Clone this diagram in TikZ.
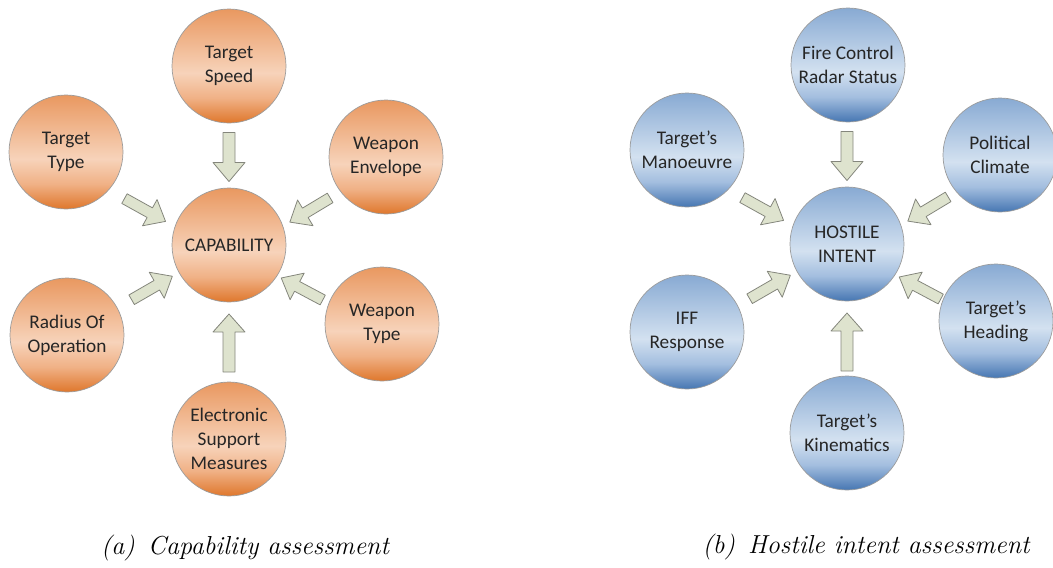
\documentclass[tikz,border=0pt]{standalone}
\usepackage{fontspec}
\newfontfamily\carlito{Carlito}
\usetikzlibrary{calc}

% ball colours
\definecolor{otop}{HTML}{E99860}
\definecolor{olight}{HTML}{F7D3BA}
\definecolor{omid}{HTML}{F0B186}
\definecolor{obot}{HTML}{DF772C}
\definecolor{btop}{HTML}{88AAD3}
\definecolor{blight}{HTML}{D3E1F0}
\definecolor{bmid}{HTML}{A3BEDF}
\definecolor{bbot}{HTML}{4676B2}
\definecolor{ballrim}{HTML}{9C9C9C}
\definecolor{arrowfill}{HTML}{DEE3CE}
\definecolor{arrowrim}{HTML}{84867C}

\pgfdeclareverticalshading{orangeshade}{100bp}{color(0bp)=(obot); color(25bp)=(obot); color(36bp)=(omid); color(47bp)=(olight); color(75bp)=(otop); color(100bp)=(otop)}
\pgfdeclareverticalshading{blueshade}{100bp}{color(0bp)=(bbot); color(25bp)=(bbot); color(36bp)=(bmid); color(47bp)=(blight); color(75bp)=(btop); color(100bp)=(btop)}

\tikzset{
  ball/.style={circle, minimum size=114pt, inner sep=0pt, draw=ballrim, line width=0.7pt,
    align=center, font=\carlito\fontsize{19.3}{24}\selectfont, text=black!85},
  orangeball/.style={ball, shade, shading=orangeshade},
  blueball/.style={ball, shade, shading=blueshade},
  blockarrow/.style={fill=arrowfill, draw=arrowrim, line width=0.8pt, line join=round},
  caption/.style={font=\itshape\fontsize{26}{30}\selectfont, inner sep=0pt}
}

% block arrow: centre, direction, length, shaft half width, head half width, head length
\newcommand\blockarrow[6]{%
  \pgfmathsetmacro\baT{#3/2}%
  \pgfmathsetmacro\baH{#3/2-#6}%
  \draw[blockarrow, shift={#1}, rotate=#2]
    (-\baT,-#4) -- (\baH,-#4) -- (\baH,-#5) -- (\baT,0) -- (\baH,#5) -- (\baH,#4) -- (-\baT,#4) -- cycle;}

% six arrows converging on a centre node
\newcommand\converge[1]{%
  \blockarrow{($(#1)+(0,-88)$)}{-90}{49}{6}{16}{19}
  \blockarrow{($(#1)+(0,98)$)}{90}{58}{6}{16}{18}
  \blockarrow{($(#1)+(-84,-35)$)}{-29}{47}{5.5}{15}{18}
  \blockarrow{($(#1)+(81,-35)$)}{-149}{47}{5.5}{15}{18}
  \blockarrow{($(#1)+(-77,43)$)}{30}{47}{5.5}{15}{18}
  \blockarrow{($(#1)+(73,44)$)}{152}{47}{5.5}{15}{18}}

\begin{document}
\begin{tikzpicture}[x=1pt, y=-1pt]
  \useasboundingbox (0,0) rectangle (1053,568);

  % capability assessment
  \node[orangeball] (cap)    at (229,245) {CAPABILITY};
  \node[orangeball] (speed)  at (229,66)  {Target\\Speed};
  \node[orangeball] (ttype)  at (66,152)  {Target\\Type};
  \node[orangeball] (wenv)   at (386,157) {Weapon\\Envelope};
  \node[orangeball] (radius) at (67,335)  {Radius Of\\Operation};
  \node[orangeball] (wtype)  at (382,324) {Weapon\\Type};
  \node[orangeball] (esm)    at (229,439) {Electronic\\Support\\Measures};
  \converge{cap}
  \node[caption] (capa) at (245,548) {(a)\hspace{0.5em}Capability assessment};

  % hostile intent assessment
  \node[blueball] (hostile) at (847,244) {HOSTILE\\INTENT};
  \node[blueball] (fcr)     at (848,65)  {Fire Control\\Radar Status};
  \node[blueball] (manv)    at (687,150) {Target’s\\Manoeuvre};
  \node[blueball] (polit)   at (1000,155) {Political\\Climate};
  \node[blueball] (iff)     at (687,332) {IFF\\Response};
  \node[blueball] (heading) at (996,321) {Target’s\\Heading};
  \node[blueball] (kin)     at (847,433) {Target’s\\Kinematics};
  \converge{hostile}
  \node[caption] (capb) at (866,547) {(b)\hspace{0.5em}Hostile intent assessment};
\end{tikzpicture}
\end{document}
